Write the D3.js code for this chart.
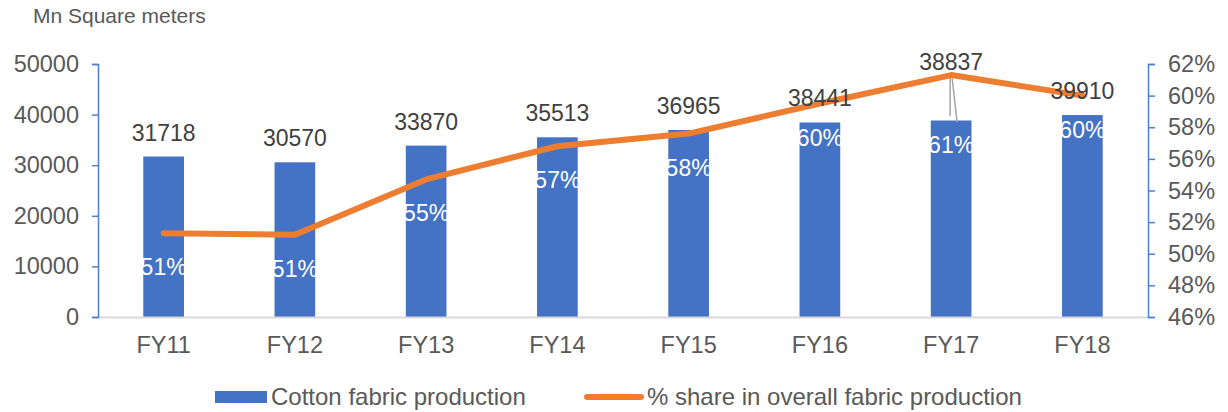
<!DOCTYPE html>
<html>
<head>
<meta charset="utf-8">
<script src="https://cdn.jsdelivr.net/npm/d3@7"></script>
<style>
  html, body { margin: 0; padding: 0; background: #fff; }
  svg { display: block; font-family: "Liberation Sans", Arial, sans-serif; }
</style>
</head>
<body>
<svg id="chart" width="1228" height="412"></svg>
<script>
// Cotton fabric production (Mn sq m) and its share of overall fabric output
const years = ["FY11", "FY12", "FY13", "FY14", "FY15", "FY16", "FY17", "FY18"];
const production = [31718, 30570, 33870, 35513, 36965, 38441, 38837, 39910];
const sharePct = [51.3, 51.2, 54.7, 56.8, 57.6, 59.5, 61.3, 60.0];
const leftTicks = [0, 10000, 20000, 30000, 40000, 50000];
const rightTicks = [46, 48, 50, 52, 54, 56, 58, 60, 62];

const W = 1228, H = 412;
const margin = { top: 64, right: 80, bottom: 95, left: 98 };
const iw = W - margin.left - margin.right;
const ih = H - margin.top - margin.bottom;

const BLUE = "#4472C4", ORANGE = "#ED7D31", AXIS = "#4F7FD3", TXT = "#595959";

const svg = d3.select("#chart");
const g = svg.append("g").attr("transform", `translate(${margin.left},${margin.top})`);

const x = d3.scaleBand().domain(years).range([0, iw]).paddingInner(0.69).paddingOuter(0.345);
const yL = d3.scaleLinear().domain([0, 50000]).range([ih, 0]);
const yR = d3.scaleLinear().domain([46, 62]).range([ih, 0]);
const cx = d => x(d) + x.bandwidth() / 2;

// unit caption
svg.append("text").attr("x", 33).attr("y", 23)
  .attr("font-size", 21).attr("fill", TXT).text("Mn Square meters");

// bars
g.selectAll("rect.bar").data(years).join("rect")
  .attr("class", "bar")
  .attr("x", d => x(d)).attr("width", x.bandwidth())
  .attr("y", (d, i) => yL(production[i]))
  .attr("height", (d, i) => ih - yL(production[i]))
  .attr("fill", BLUE);

// category baseline
g.append("line").attr("x1", 0).attr("x2", iw).attr("y1", ih + 0.5).attr("y2", ih + 0.5)
  .attr("stroke", "#d9d9d9").attr("stroke-width", 2);

// left axis
const axL = g.append("g").call(d3.axisLeft(yL).tickValues(leftTicks).tickFormat(d3.format("d"))
  .tickSize(6).tickPadding(13).tickSizeOuter(6));
axL.select(".domain").attr("stroke", AXIS).attr("stroke-width", 1.5);
axL.selectAll(".tick line").attr("stroke", AXIS).attr("stroke-width", 1.5);
axL.selectAll("text").attr("font-size", 23.5).attr("fill", TXT).attr("font-family", "Liberation Sans, Arial, sans-serif");

// right axis
const axR = g.append("g").attr("transform", `translate(${iw},0)`)
  .call(d3.axisRight(yR).tickValues(rightTicks).tickFormat(d => d + "%").tickSize(7).tickPadding(13).tickSizeOuter(7));
axR.select(".domain").attr("stroke", AXIS).attr("stroke-width", 1.5);
axR.selectAll(".tick line").attr("stroke", AXIS).attr("stroke-width", 1.5);
axR.selectAll("text").attr("font-size", 23.5).attr("fill", TXT).attr("font-family", "Liberation Sans, Arial, sans-serif");

// category labels
g.selectAll("text.cat").data(years).join("text")
  .attr("class", "cat")
  .attr("x", d => cx(d)).attr("y", ih + 36)
  .attr("text-anchor", "middle").attr("font-size", 23.5).attr("fill", TXT)
  .text(d => d);

// share line
const line = d3.line().x((d, i) => cx(years[i])).y(d => yR(d));
g.append("path").datum(sharePct)
  .attr("d", line).attr("fill", "none")
  .attr("stroke", ORANGE).attr("stroke-width", 6)
  .attr("stroke-linecap", "round").attr("stroke-linejoin", "round");

// labels pulled away from their default spot (FY17 sits under the line's peak)
const valueLift = { FY17: 35 };
const shareDrop = { FY17: 36 };

// production value labels above bars
g.selectAll("text.val").data(years).join("text")
  .attr("class", "val")
  .attr("x", d => cx(d))
  .attr("y", (d, i) => yL(production[i]) - 16 - (valueLift[d] || 0))
  .attr("text-anchor", "middle").attr("font-size", 23).attr("fill", "#404040")
  .text((d, i) => production[i]);

// leader line for the displaced share label
years.forEach((d, i) => {
  if (!shareDrop[d]) return;
  const px = cx(d), py = yR(sharePct[i]);
  const top = py + 42 + shareDrop[d] - 33;
  g.append("path")
    .attr("d", `M${px - 1},${py + 3}L${px - 1},${top - 4}M${px + 1},${py + 3}L${px + 6},${top + 2}`)
    .attr("fill", "none").attr("stroke", "#a6a6a6").attr("stroke-width", 1.5);
});

// share labels in white, inside the bars
g.selectAll("text.share").data(years).join("text")
  .attr("class", "share")
  .attr("x", d => cx(d))
  .attr("y", (d, i) => yR(sharePct[i]) + 42 + (shareDrop[d] || 0))
  .attr("text-anchor", "middle").attr("font-size", 23).attr("fill", "#fff")
  .text((d, i) => Math.round(sharePct[i]) + "%");

// legend
const lg = svg.append("g");
lg.append("rect").attr("x", 215).attr("y", 391).attr("width", 52).attr("height", 12).attr("fill", BLUE);
lg.append("text").attr("x", 271).attr("y", 405).attr("font-size", 24).attr("fill", TXT)
  .text("Cotton fabric production");
lg.append("line").attr("x1", 587).attr("x2", 641).attr("y1", 397).attr("y2", 397)
  .attr("stroke", ORANGE).attr("stroke-width", 6).attr("stroke-linecap", "round");
lg.append("text").attr("x", 647).attr("y", 405).attr("font-size", 24).attr("fill", TXT)
  .text("% share in overall fabric production");
</script>
</body>
</html>
